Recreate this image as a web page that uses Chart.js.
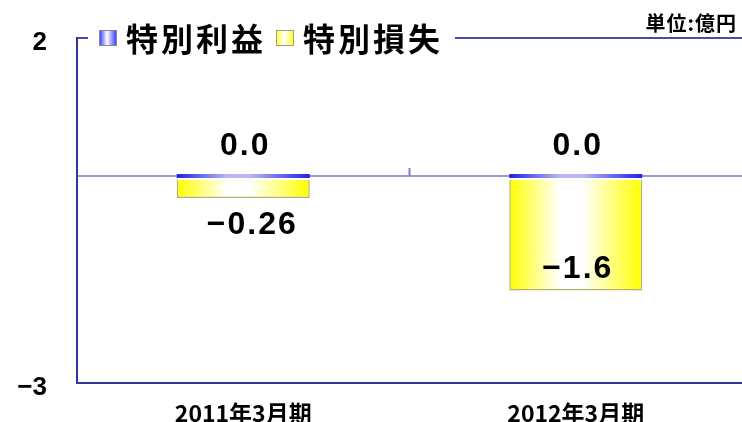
<!DOCTYPE html>
<html>
<head>
<meta charset="utf-8">
<script src="https://cdn.jsdelivr.net/npm/chart.js@4.4.1/dist/chart.umd.min.js"></script>
<style>
  html, body { margin: 0; padding: 0; background: #fff; }
  canvas { display: block; }
</style>
</head>
<body>
<canvas id="chart" width="742" height="422"></canvas>
<script>
// data
const categories = ["2011年3月期", "2012年3月期"];
const seriesNames = ["特別利益", "特別損失"];
const gainValues = [0, 0];
const lossValues = [-0.26, -1.6];
const yTicks = [-3, 0, 2];
const unitLabel = "単位:億円";

const FONT = '"Liberation Sans", "Noto Sans CJK JP", sans-serif';
const CJK = '"Noto Sans CJK JP", "Liberation Sans", sans-serif';
const BAR_PCT = 0.4;

const fmt = (v) => {
  if (v === 0) return "0.0";
  return v < 0 ? "\u2212" + String(Math.abs(v)) : String(v);
};

// horizontal white-to-colour gradient for each bar
const barGradient = (edge, mid) => (ctx) => {
  const chart = ctx.chart;
  const area = chart.chartArea;
  if (!area) return edge;
  const xs = chart.scales.x;
  const cx = xs.getPixelForValue(ctx.dataIndex);
  const w = (area.width / categories.length) * BAR_PCT;
  const g = chart.ctx.createLinearGradient(cx - w / 2, 0, cx + w / 2, 0);
  g.addColorStop(0, edge);
  g.addColorStop(0.38, mid);
  g.addColorStop(0.55, mid);
  g.addColorStop(1, edge);
  return g;
};

const decorPlugin = {
  id: "decor",
  afterDatasetsDraw(chart) {
    const { ctx, scales } = chart;
    const xs = scales.x, ys = scales.y;
    const zero = ys.getPixelForValue(0);
    ctx.save();

    // category divider tick on the zero line
    ctx.strokeStyle = "#8080c8";
    ctx.lineWidth = 2;
    for (let i = 0; i < categories.length - 1; i++) {
      const x = (xs.getPixelForValue(i) + xs.getPixelForValue(i + 1)) / 2;
      ctx.beginPath();
      ctx.moveTo(x, zero - 8);
      ctx.lineTo(x, zero);
      ctx.stroke();
    }

    // value labels
    ctx.fillStyle = "#000";
    ctx.font = "bold 32px " + FONT;
    ctx.letterSpacing = "2px";
    ctx.textAlign = "center";
    ctx.textBaseline = "middle";
    chart.getDatasetMeta(0).data.forEach((bar, i) => {
      ctx.fillText(fmt(gainValues[i]), bar.x + 2, zero - 30);
    });
    chart.getDatasetMeta(1).data.forEach((bar, i) => {
      const h = Math.abs(bar.y - bar.base);
      const y = h < 34 ? bar.y + 27 : bar.y - 21;
      const dx = h < 34 ? 9 : 2;
      ctx.fillText(fmt(lossValues[i]), bar.x + dx, y);
    });

    // legend sitting on the top border
    const top = chart.chartArea.top;
    ctx.fillStyle = "#fff";
    ctx.fillRect(88, top - 16, 367, 32);
    const colours = [["#2a2aff", "#8888a0"], ["#ffff20", "#a0a070"]];
    ctx.font = "bold 32px " + CJK;
    ctx.letterSpacing = "3px";
    ctx.textAlign = "left";
    let x = 99;
    seriesNames.forEach((name, i) => {
      const g = ctx.createLinearGradient(x, 0, x + 18, 0);
      g.addColorStop(0, colours[i][0]);
      g.addColorStop(0.45, "#fff");
      g.addColorStop(1, colours[i][0]);
      ctx.fillStyle = g;
      ctx.fillRect(x, top - 8, 18, 16);
      ctx.strokeStyle = colours[i][1];
      ctx.lineWidth = 1;
      ctx.strokeRect(x + 0.5, top - 7.5, 17, 15);
      ctx.fillStyle = "#000";
      ctx.fillText(name, x + 27, top + 1);
      x += 27 + ctx.measureText(name).width + 10;
    });

    // unit
    ctx.font = "bold 20px " + CJK;
    ctx.letterSpacing = "1px";
    ctx.textAlign = "right";
    ctx.fillText(unitLabel, 737, 23);
    ctx.restore();
  }
};

new Chart(document.getElementById("chart"), {
  type: "bar",
  data: {
    labels: categories,
    datasets: [
      {
        label: seriesNames[0],
        data: gainValues,
        backgroundColor: barGradient("#2020e8", "#b8b8f0"),
        borderWidth: 0,
        minBarLength: 4,
        barPercentage: BAR_PCT,
        categoryPercentage: 1
      },
      {
        label: seriesNames[1],
        data: lossValues,
        backgroundColor: barGradient("#ffff00", "#ffffff"),
        borderColor: "#b4b470",
        borderWidth: 1.5,
        barPercentage: BAR_PCT,
        categoryPercentage: 1
      }
    ]
  },
  options: {
    responsive: false,
    animation: false,
    layout: { padding: { top: 38, right: 0, left: 0, bottom: 0 } },
    plugins: { legend: { display: false }, tooltip: { enabled: false } },
    scales: {
      x: {
        stacked: true,
        grid: { display: false },
        border: { color: "#33339a", width: 2 },
        ticks: {
          color: "#000",
          padding: 8,
          font: { family: CJK, size: 23, weight: "bold" }
        },
        afterFit: (s) => { s.height = 39; s.paddingLeft = 0; s.paddingRight = 0; }
      },
      y: {
        stacked: true,
        min: -3,
        max: 2,
        afterBuildTicks: (s) => { s.ticks = yTicks.map((v) => ({ value: v })); },
        afterFit: (s) => { s.width = 77; s.paddingTop = 0; s.paddingBottom = 0; },
        border: { color: "#33339a", width: 2 },
        grid: {
          drawTicks: false,
          lineWidth: 2,
          color: (c) => c.tick.value === 0 ? "#9a9ad8" : c.tick.value === 2 ? "#4a4aa8" : "rgba(0,0,0,0)"
        },
        ticks: {
          color: "#000",
          padding: 30,
          labelOffset: 5,
          font: { family: FONT, size: 26, weight: "bold" },
          callback: (v) => v === 0 ? "" : fmt(v)
        }
      }
    }
  },
  plugins: [decorPlugin]
});
</script>
</body>
</html>
